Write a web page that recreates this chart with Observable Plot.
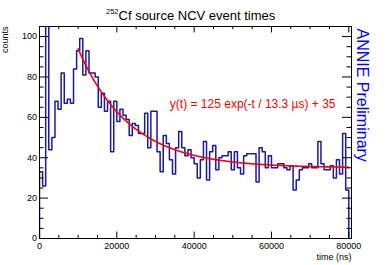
<!DOCTYPE html>
<html><head><meta charset="utf-8">
<script src="https://cdn.jsdelivr.net/npm/d3@7"></script>
<script src="https://cdn.jsdelivr.net/npm/@observablehq/plot@0.6"></script>
<style>
html,body{margin:0;padding:0;background:#fff;}
#wrap{position:relative;width:390px;height:265px;font-family:"Liberation Sans",Arial,sans-serif;}
#title{position:absolute;z-index:2;left:106px;top:9px;font-size:13px;line-height:13px;white-space:nowrap;color:#000;}
#title .sup{font-size:7.5px;position:relative;top:-6px;}
svg{display:block}
</style></head><body>
<div id="wrap"><div id="title"><span class="sup">252</span>Cf source NCV event times</div></div>
<script>
// histogram: 100 bins of 800 ns from 0 to 80000 ns
const binWidth = 800;
const binCounts = [
  33, 26, 120, 44, 50, 68, 64, 82, 67, 69,
  67, 84, 93, 99, 81, 93, 82, 82, 80, 65,
  72, 63, 68, 43, 68, 58, 64, 61, 59, 51,
  57, 56, 52, 52, 62, 45, 63, 63, 43, 33,
  51, 47, 39, 32, 45, 53, 45, 41, 44, 40,
  37, 30, 39, 48, 29, 43, 46, 34, 40, 41,
  41, 43, 34, 43, 35, 32, 41, 42, 42, 42,
  28, 45, 43, 35, 41, 35, 35, 37, 37, 35,
  34, 36, 24, 29, 34, 35, 35, 37, 35, 35,
  48, 37, 34, 34, 36, 30, 39, 32, 52, 24
];
// fit parameters (as printed on the chart)
const fitAmplitude = 125;
const fitTau = 13300;   // ns
const fitOffset = 35;
const fitStart = 10000;
const fitEnd = 80000;

const xMajor = [0, 20000, 40000, 60000, 80000];
const xMinor = d3.range(0, 80001, 5000).filter(d => d % 20000 !== 0);
const yMajor = [0, 20, 40, 60, 80, 100];
const yMinor = d3.range(0, 105, 5).filter(d => d % 20 !== 0);

const xDomain = [0, 80700];
const yDomain = [0, 105];

const titleLabel = "252Cf source NCV event times";
const xLabel = "time (ns)";
const yLabel = "counts";
const watermark = "ANNIE Preliminary";
const fitLabel = `y(t) = ${fitAmplitude} exp(-t / ${fitTau / 1000} \u00b5s) + ${fitOffset}`;

// build tables
const nBins = binCounts.length;
const hist = [{t: 0, v: 0}]
  .concat(binCounts.map((v, i) => ({t: i * binWidth, v})))
  .concat([{t: nBins * binWidth, v: binCounts[nBins - 1]}, {t: nBins * binWidth, v: 0}]);
const fit = d3.range(fitStart, fitEnd + 1, 200).map(t => ({t, v: fitAmplitude * Math.exp(-t / fitTau) + fitOffset}));

const W = 390, H = 265, mL = 39, mR = 39, mT = 26, mB = 27;
const fw = W - mL - mR, fh = H - mT - mB;
const font = "Liberation Sans, Arial, sans-serif";

const chart = Plot.plot({
  width: W, height: H,
  marginLeft: mL, marginRight: mR, marginTop: mT, marginBottom: mB,
  style: {fontFamily: font, background: "transparent", color: "black"},
  x: {domain: xDomain},
  y: {domain: yDomain},
  marks: [
    Plot.line(hist, {x: "t", y: "v", curve: "step-after", stroke: "#1a1a9e", strokeWidth: 1.5, clip: true}),
    Plot.line(fit, {x: "t", y: "v", stroke: "#ff0000", strokeWidth: 1.6, clip: true}),
    // inward ticks on all four sides
    Plot.tickY(yMajor, {y: d => d, insetRight: fw - 9, stroke: "black"}),
    Plot.tickY(yMajor, {y: d => d, insetLeft: fw - 9, stroke: "black"}),
    Plot.tickY(yMinor, {y: d => d, insetRight: fw - 4.5, stroke: "black"}),
    Plot.tickY(yMinor, {y: d => d, insetLeft: fw - 4.5, stroke: "black"}),
    Plot.tickX(xMajor, {x: d => d, insetTop: fh - 6.4, stroke: "black"}),
    Plot.tickX(xMajor, {x: d => d, insetBottom: fh - 6.4, stroke: "black"}),
    Plot.tickX(xMinor, {x: d => d, insetTop: fh - 3.2, stroke: "black"}),
    Plot.tickX(xMinor, {x: d => d, insetBottom: fh - 3.2, stroke: "black"}),
    Plot.frame({stroke: "black"}),
    Plot.axisX(xMajor, {tickSize: 0, tickPadding: 4, fontSize: 9, label: null, tickFormat: d => `${d}`}),
    Plot.axisY(yMajor, {tickSize: 0, tickPadding: 2.5, fontSize: 9, label: null, tickFormat: d => `${d}`}),
    Plot.text([xLabel], {frameAnchor: "bottom-right", dy: 19, textAnchor: "end", lineAnchor: "middle", fontSize: 9}),
    Plot.text([yLabel], {frameAnchor: "top-left", rotate: -90, textAnchor: "end", lineAnchor: "bottom", dx: -31.5, dy: 0, fontSize: 9}),
    Plot.text([fitLabel], {frameAnchor: "top-right", textAnchor: "end", lineAnchor: "bottom", dx: -16, dy: 81, fontSize: 12, fill: "#ff0000"}),
    Plot.text([watermark], {frameAnchor: "top-right", rotate: 90, textAnchor: "start", lineAnchor: "bottom", dx: 5, dy: 2, fontSize: 16, fill: "#0000ff"})
  ]
});
document.getElementById("wrap").appendChild(chart);
</script>
</body></html>
